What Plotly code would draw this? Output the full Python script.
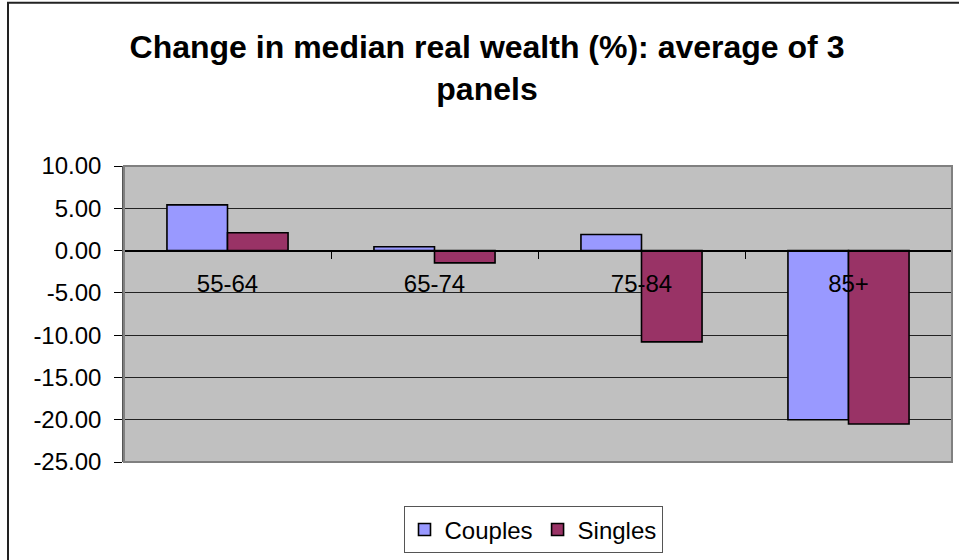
import plotly.graph_objects as go

categories = ["55-64", "65-74", "75-84", "85+"]
couples = [5.4, 0.45, 1.9, -20.0]
singles = [2.1, -1.45, -10.8, -20.5]
y_ticks = [10, 5, 0, -5, -10, -15, -20, -25]
y_tick_labels = ["10.00", "5.00", "0.00", "-5.00", "-10.00", "-15.00", "-20.00", "-25.00"]

W, H = 959, 560
L, R, T, B = 124, 7, 166, 97.5
pw, ph = W - L - R, H - T - B

fig = go.Figure()
fig.add_trace(go.Bar(name="Couples", x=categories, y=couples,
                     marker=dict(color="#9999FF", line=dict(color="black", width=1.6))))
fig.add_trace(go.Bar(name="Singles", x=categories, y=singles,
                     marker=dict(color="#993366", line=dict(color="black", width=1.6))))

ymin, ymax = -25, 10
fig.update_layout(
    width=W, height=H,
    margin=dict(l=L, r=R, t=T, b=B, autoexpand=False),
    paper_bgcolor="white", plot_bgcolor="#C0C0C0",
    barmode="group", bargap=0.415, bargroupgap=0,
    font=dict(family="Liberation Sans, Arial, sans-serif", size=24, color="black"),
    title=dict(text="<b>Change in median real wealth (%): average of 3<br>panels</b>",
               font=dict(size=32, color="black"),
               x=487 / W, xref="container", xanchor="center",
               y=1 - 58 / H, yref="container", yanchor="top"),
    xaxis=dict(anchor="free", position=(0 - ymin) / (ymax - ymin),
               showline=True, linecolor="black", linewidth=1.5,
               ticks="outside", ticklen=8, tickcolor="black", tickwidth=1,
               tickson="boundaries", showgrid=False, zeroline=False,
               ticklabelstandoff=12, tickfont=dict(size=24)),
    yaxis=dict(range=[ymin, ymax], tickvals=y_ticks, ticktext=y_tick_labels,
               showgrid=True, gridcolor="#222222", gridwidth=1,
               zeroline=False, showline=True, linecolor="#555555", linewidth=1.5,
               ticks="outside", ticklen=8, tickcolor="black", ticklabelstandoff=8,
               tickfont=dict(size=24)),
    showlegend=True,
    legend=dict(orientation="h", x=(533 - L) / pw, xanchor="center",
                y=(0 - (507 - (T + ph))) / ph, yanchor="top",
                bordercolor="#555555", borderwidth=1, bgcolor="white",
                font=dict(size=24), itemwidth=30, traceorder="normal"),
    shapes=[
        dict(type="rect", xref="paper", yref="paper", x0=0, x1=1, y0=0, y1=1,
             line=dict(color="#808080", width=2), layer="above"),
        dict(type="rect", xref="paper", yref="paper",
             x0=(8 - L) / pw, x1=1.2, y0=-0.6, y1=(T + ph - 2.5) / ph,
             line=dict(color="#222222", width=2), layer="above"),
    ],
)

fig.write_html("out.html", config={"displayModeBar": False},
               post_script="document.body.style.margin='0';document.body.style.overflow='hidden';")
